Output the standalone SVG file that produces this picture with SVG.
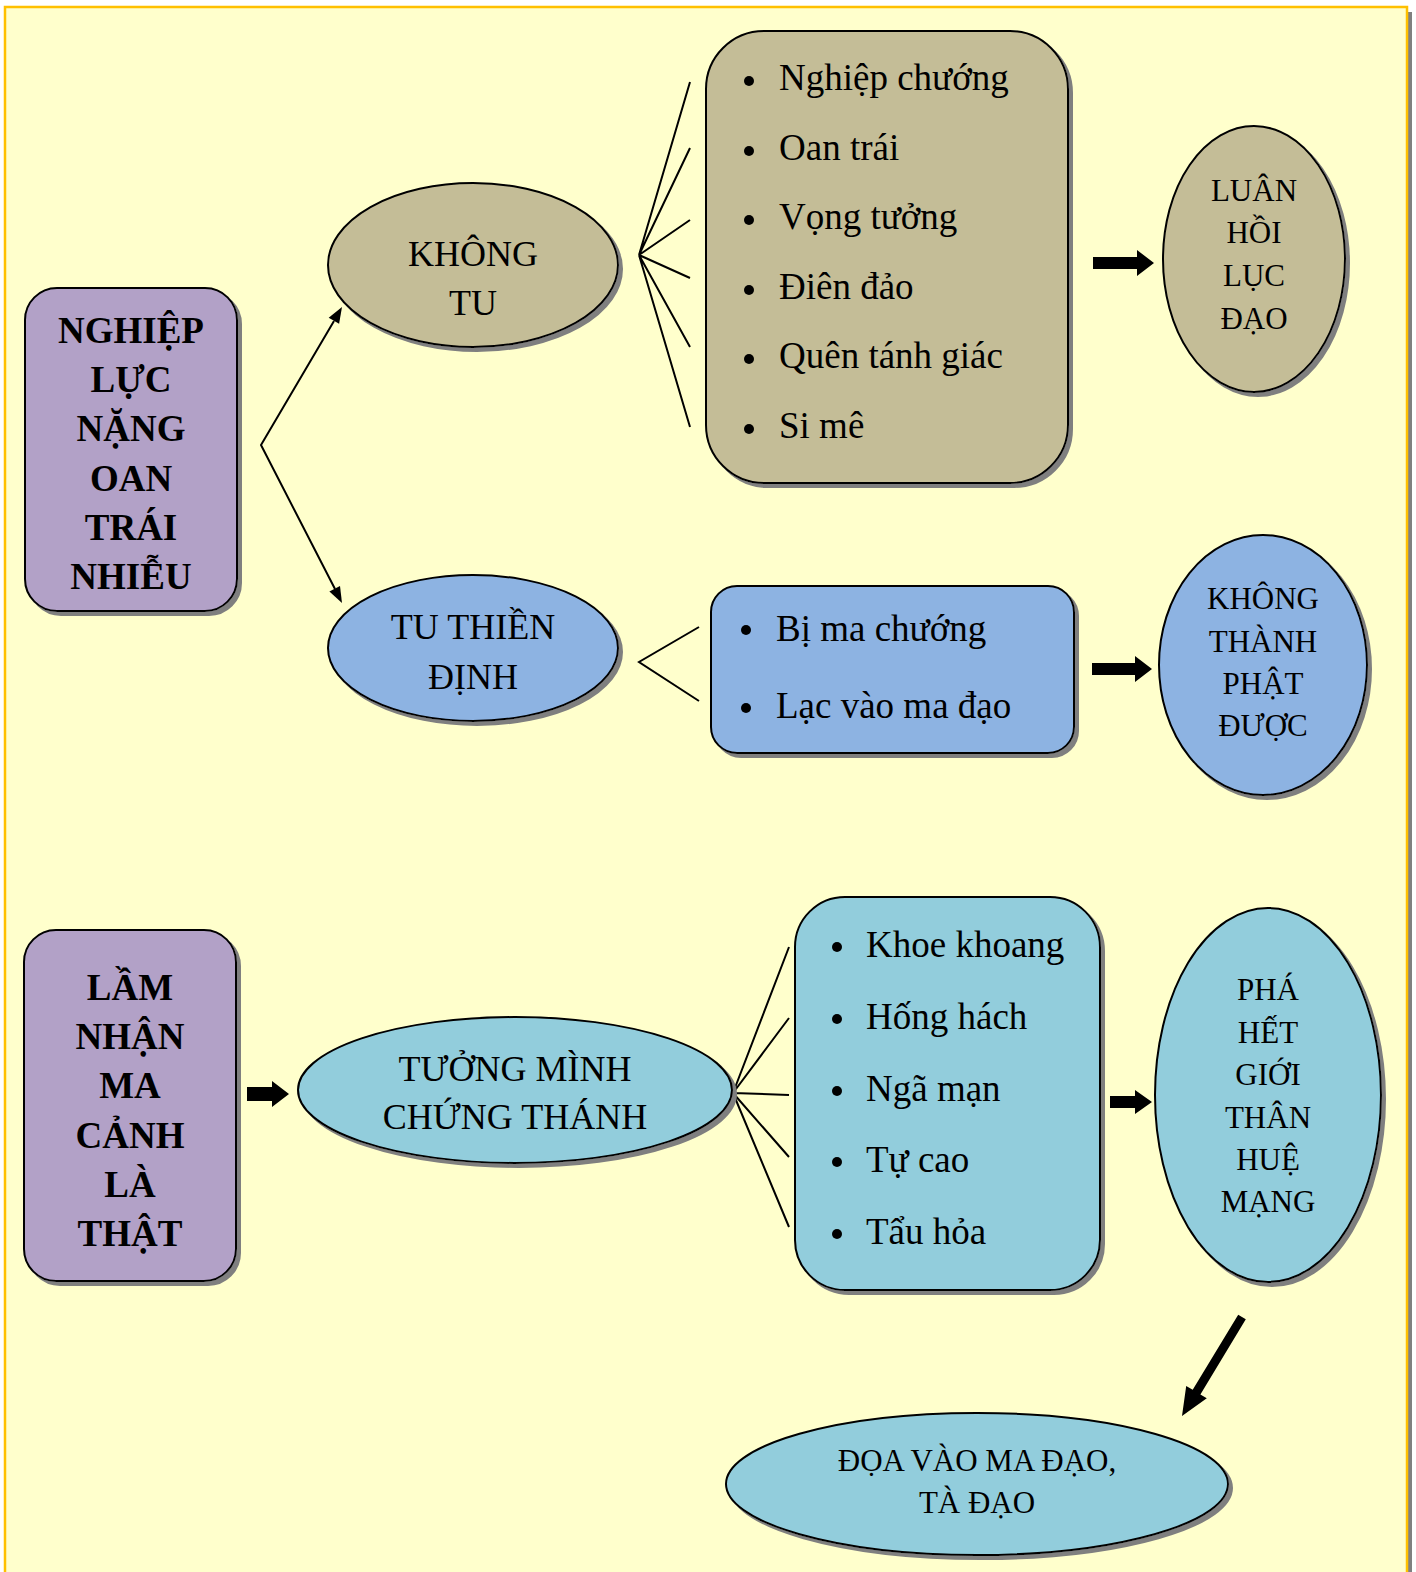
<svg xmlns="http://www.w3.org/2000/svg" width="1416" height="1572" viewBox="0 0 1416 1572">
<defs>
<style>
.sh{filter:url(#ds)}
.n{stroke:#000;stroke-width:2}
.tan{fill:#C4BD97}.pur{fill:#B2A1C7}.blu{fill:#8DB3E2}.cya{fill:#92CDDC}
.t{font-family:"Liberation Serif","Times New Roman",serif;fill:#000}
.b{font-weight:bold;font-size:37px;text-anchor:middle}
.m{font-size:36px;text-anchor:middle}
.s{font-size:31px;text-anchor:middle}
.l{font-size:37px}
.ln{stroke:#000;stroke-width:2;fill:none}
.blk{fill:#000}
</style>
<filter id="ds" x="-10%" y="-10%" width="125%" height="125%">
<feDropShadow dx="4" dy="4" stdDeviation="0.6" flood-color="#7f7f7f" flood-opacity="1"/>
</filter>
</defs>
<rect x="0" y="0" width="1416" height="1572" fill="#fff"/>
<rect x="10" y="12" width="1402" height="1570" fill="#808080"/>
<rect x="5" y="7" width="1402" height="1570" fill="#FFFFCC" stroke="#FFC000" stroke-width="2.5"/>

<g id="connectors">
<path class="ln" d="M334,321 L261,445 L335,589"/>
<polygon class="blk" points="342,307 339.1,323.8 328.7,317.8"/>
<polygon class="blk" points="342,603 340,586.1 329.4,591.5"/>
<path class="ln" d="M690,82 L639,255 L690,148 M639,255 L690,220 M639,255 L690,278 M639,255 L690,347 M639,255 L690,427"/>
<path class="ln" d="M699,627 L639,662 L699,701"/>
<path class="ln" d="M789,947 L733,1093 L789,1018 M733,1093 L789,1095 M733,1093 L789,1157 M733,1093 L789,1227"/>
<polygon class="blk" points="1093,257 1137,257 1137,250 1154,263 1137,276 1137,269 1093,269"/>
<polygon class="blk" points="1092,663 1135,663 1135,656 1152,669 1135,682 1135,675 1092,675"/>
<polygon class="blk" points="247,1087 272,1087 272,1081 289,1094 272,1107 272,1101 247,1101"/>
<polygon class="blk" points="1110,1096 1135,1096 1135,1090 1152,1102 1135,1114 1135,1108 1110,1108"/>
<polygon class="blk" points="1238.2,1314.7 1245.8,1319.3 1200.4,1394.4 1206.8,1398.3 1182,1416 1186.2,1385.9 1192.7,1389.8"/>
</g>

<g id="n1">
<rect class="n pur sh" x="25" y="288" width="212" height="323" rx="32"/>
<text class="t b" x="131"><tspan x="131" y="343">NGHIỆP</tspan><tspan x="131" y="392">LỰC</tspan><tspan x="131" y="441">NẶNG</tspan><tspan x="131" y="491">OAN</tspan><tspan x="131" y="540">TRÁI</tspan><tspan x="131" y="589">NHIỄU</tspan></text>
</g>

<g id="n2">
<ellipse class="n tan sh" cx="473" cy="265" rx="145" ry="82"/>
<text class="t m"><tspan x="473" y="266">KHÔNG</tspan><tspan x="473" y="315">TU</tspan></text>
</g>

<g id="n3">
<rect class="n tan sh" x="706" y="31" width="362" height="452" rx="58"/>
<g fill="#000"><circle cx="749" cy="81" r="5"/><circle cx="749" cy="151" r="5"/><circle cx="749" cy="220" r="5"/><circle cx="749" cy="290" r="5"/><circle cx="749" cy="359" r="5"/><circle cx="749" cy="429" r="5"/></g>
<text class="t l"><tspan x="779" y="90">Nghiệp chướng</tspan><tspan x="779" y="160">Oan trái</tspan><tspan x="779" y="229">Vọng tưởng</tspan><tspan x="779" y="299">Điên đảo</tspan><tspan x="779" y="368">Quên tánh giác</tspan><tspan x="779" y="438">Si mê</tspan></text>
</g>

<g id="n4">
<ellipse class="n tan sh" cx="1254" cy="259" rx="91" ry="133"/>
<text class="t s"><tspan x="1254" y="201">LUÂN</tspan><tspan x="1254" y="243">HỒI</tspan><tspan x="1254" y="286">LỤC</tspan><tspan x="1254" y="329">ĐẠO</tspan></text>
</g>

<g id="n5">
<ellipse class="n blu sh" cx="473" cy="648" rx="145" ry="73"/>
<text class="t m"><tspan x="473" y="639">TU THIỀN</tspan><tspan x="473" y="689">ĐỊNH</tspan></text>
</g>

<g id="n6">
<rect class="n blu sh" x="711" y="586" width="363" height="167" rx="26"/>
<g fill="#000"><circle cx="746" cy="630" r="5"/><circle cx="746" cy="708" r="5"/></g>
<text class="t l"><tspan x="776" y="641">Bị ma chướng</tspan><tspan x="776" y="718">Lạc vào ma đạo</tspan></text>
</g>

<g id="n7">
<ellipse class="n blu sh" cx="1263" cy="665" rx="104" ry="130"/>
<text class="t s"><tspan x="1263" y="609">KHÔNG</tspan><tspan x="1263" y="652">THÀNH</tspan><tspan x="1263" y="694">PHẬT</tspan><tspan x="1263" y="736">ĐƯỢC</tspan></text>
</g>

<g id="n8">
<rect class="n pur sh" x="24" y="930" width="212" height="351" rx="32"/>
<text class="t b"><tspan x="130" y="1000">LẦM</tspan><tspan x="130" y="1049">NHẬN</tspan><tspan x="130" y="1098">MA</tspan><tspan x="130" y="1148">CẢNH</tspan><tspan x="130" y="1197">LÀ</tspan><tspan x="130" y="1246">THẬT</tspan></text>
</g>

<g id="n9">
<ellipse class="n cya sh" cx="515" cy="1090" rx="217" ry="73"/>
<text class="t m"><tspan x="515" y="1081">TƯỞNG MÌNH</tspan><tspan x="515" y="1129">CHỨNG THÁNH</tspan></text>
</g>

<g id="n10">
<rect class="n cya sh" x="795" y="897" width="305" height="393" rx="50"/>
<g fill="#000"><circle cx="837" cy="947" r="5"/><circle cx="837" cy="1019" r="5"/><circle cx="837" cy="1091" r="5"/><circle cx="837" cy="1162" r="5"/><circle cx="837" cy="1234" r="5"/></g>
<text class="t l"><tspan x="866" y="957">Khoe khoang</tspan><tspan x="866" y="1029">Hống hách</tspan><tspan x="866" y="1101">Ngã mạn</tspan><tspan x="866" y="1172">Tự cao</tspan><tspan x="866" y="1244">Tẩu hỏa</tspan></text>
</g>

<g id="n11">
<ellipse class="n cya sh" cx="1268" cy="1095" rx="113" ry="187"/>
<text class="t s"><tspan x="1268" y="1000">PHÁ</tspan><tspan x="1268" y="1043">HẾT</tspan><tspan x="1268" y="1085">GIỚI</tspan><tspan x="1268" y="1128">THÂN</tspan><tspan x="1268" y="1170">HUỆ</tspan><tspan x="1268" y="1212">MẠNG</tspan></text>
</g>

<g id="n12">
<ellipse class="n cya sh" cx="977" cy="1484" rx="251" ry="71"/>
<text class="t s"><tspan x="977" y="1471">ĐỌA VÀO MA ĐẠO,</tspan><tspan x="977" y="1513">TÀ ĐẠO</tspan></text>
</g>
</svg>
